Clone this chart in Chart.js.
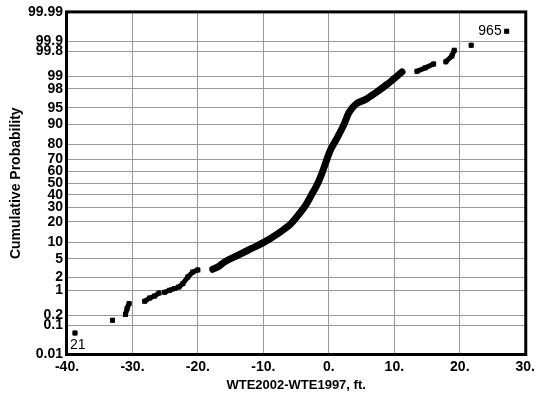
<!DOCTYPE html>
<html>
<head>
<meta charset="utf-8">
<script src="https://cdn.jsdelivr.net/npm/chart.js@4.4.0/dist/chart.umd.min.js"></script>
<style>
  html, body { margin: 0; padding: 0; background: #fff; }
</style>
</head>
<body>
<canvas id="probChart" width="540" height="399"></canvas>
<script>
// Values (null breaks the curve where the original has gaps)
const tailDiff = [-38.78, null, -33.05, null, -31.07, -30.82, -30.52, null,
    -28.13, -27.37, -26.61, -25.95, null, -25.09, -24.33, -23.56, -22.91, -22.30, -21.54, -20.78, -20.02, null,
    13.46, 14.74, 16.0, null, 17.87, 18.79, 19.15, null, 21.74, null, 27.16];
const tailProb = [0.055, null, 0.143, null, 0.213, 0.319, 0.44, null,
    0.51, 0.62, 0.70, 0.84, null, 0.88, 0.99, 1.09, 1.19, 1.44, 2.05, 2.66, 2.95, null,
    99.26, 99.40, 99.53, null, 99.59, 99.72, 99.81, null, 99.867, null, 99.953];

const curveDiff = [-17.74, -16.98, -15.96, -13.93, -11.89, -9.87, -7.84, -5.81, -4.55, -3.53, -2.72,
    -1.80, -1.20, -0.59, 0.18, 1.29, 2.31, 3.07, 4.09, 5.61, 7.13, 8.90, 11.18];
const curveProb = [3.05, 3.39, 4.29, 5.8, 7.68, 9.96, 13.5, 18.8, 25.1, 31.7, 39.3,
    48.7, 56.5, 65.6, 75.9, 84.0, 90.0, 93.8, 95.7, 96.6, 97.55, 98.43, 99.23];

const probTicks = [0.01, 0.1, 0.2, 1, 2, 5, 10, 20, 30, 40, 50, 60, 70, 80, 90, 95, 98, 99, 99.8, 99.9, 99.99];
const diffTicks = [-40, -30, -20, -10, 0, 10, 20, 30];
const endLabels = ['21', '965'];

// inverse normal CDF (Acklam)
function probit(p) {
    const a = [-3.969683028665376e+01, 2.209460984245205e+02, -2.759285104469687e+02, 1.383577518672690e+02, -3.066479806614716e+01, 2.506628277459239e+00];
    const b = [-5.447609879822406e+01, 1.615858368580409e+02, -1.556989798598866e+02, 6.680131188771972e+01, -1.328068155288572e+01];
    const c = [-7.784894002430293e-03, -3.223964580411365e-01, -2.400758277161838e+00, -2.549732539343734e+00, 4.374664141464968e+00, 2.938163982698783e+00];
    const d = [7.784695709041462e-03, 3.224671290700398e-01, 2.445134137142996e+00, 3.754408661907416e+00];
    const pl = 0.02425;
    let q, r;
    if (p < pl) {
        q = Math.sqrt(-2 * Math.log(p));
        return (((((c[0]*q+c[1])*q+c[2])*q+c[3])*q+c[4])*q+c[5]) / ((((d[0]*q+d[1])*q+d[2])*q+d[3])*q+1);
    }
    if (p > 1 - pl) {
        q = Math.sqrt(-2 * Math.log(1 - p));
        return -(((((c[0]*q+c[1])*q+c[2])*q+c[3])*q+c[4])*q+c[5]) / ((((d[0]*q+d[1])*q+d[2])*q+d[3])*q+1);
    }
    q = p - 0.5;
    r = q * q;
    return (((((a[0]*r+a[1])*r+a[2])*r+a[3])*r+a[4])*r+a[5])*q / (((((b[0]*r+b[1])*r+b[2])*r+b[3])*r+b[4])*r+1);
}

function normCdf(z) {
    const t = 1 / (1 + 0.3275911 * Math.abs(z) / Math.SQRT2);
    const y = 1 - (((((1.061405429*t - 1.453152027)*t) + 1.421413741)*t - 0.284496736)*t + 0.254829592) * t * Math.exp(-z*z/2);
    return z >= 0 ? (1 + y) / 2 : (1 - y) / 2;
}

// Probability (normal) axis
class ProbitScale extends Chart.Scale {
    determineDataLimits() {
        this.min = this.options.min;
        this.max = this.options.max;
    }
    buildTicks() {
        return probTicks.map(v => ({ value: v }));
    }
    configure() {
        super.configure();
        this._zStart = probit(this.min / 100);
        this._zEnd = probit(this.max / 100);
    }
    getPixelForValue(value) {
        if (value === null || value === undefined || isNaN(value)) return NaN;
        const z = probit(value / 100);
        return this.getPixelForDecimal((z - this._zStart) / (this._zEnd - this._zStart));
    }
    getValueForPixel(pixel) {
        const z = this._zStart + this.getDecimalForPixel(pixel) * (this._zEnd - this._zStart);
        return normCdf(z) * 100;
    }
}
ProbitScale.id = 'probit';
ProbitScale.defaults = {};
Chart.register(ProbitScale);

function toPoints(xs, ys) {
    return xs.map((x, i) => x === null ? { x: NaN, y: NaN } : { x: x, y: ys[i] });
}

// black frame around the plot + end labels
const framePlugin = {
    id: 'frame',
    afterDatasetsDraw(chart) {
        const ctx = chart.ctx;
        const a = chart.chartArea;
        ctx.save();
        ctx.strokeStyle = '#000';
        ctx.lineWidth = 3;
        ctx.strokeRect(a.left - 0.5, a.top - 0.5, a.right - a.left + 1, a.bottom - a.top + 1);

        const pts = chart.getDatasetMeta(0).data;
        const first = pts[0];
        const last = pts[pts.length - 1];
        ctx.fillStyle = '#000';
        ctx.font = '14px "Liberation Sans", Arial, sans-serif';
        ctx.textAlign = 'left';
        ctx.textBaseline = 'top';
        ctx.fillText(endLabels[0], first.x - 5, first.y + 5);
        ctx.textAlign = 'right';
        ctx.textBaseline = 'middle';
        ctx.fillText(endLabels[1], last.x - 5, last.y);
        ctx.restore();
    }
};

Chart.defaults.font.family = '"Liberation Sans", Arial, sans-serif';
Chart.defaults.font.size = 13;
Chart.defaults.font.weight = 'bold';
Chart.defaults.color = '#000';

const ctx = document.getElementById('probChart').getContext('2d');
const probChart = new Chart(ctx, {
    type: 'scatter',
    data: {
        datasets: [{
            data: toPoints(tailDiff, tailProb),
            showLine: true,
            borderColor: '#000',
            backgroundColor: '#000',
            borderWidth: 5,
            borderCapStyle: 'round',
            borderJoinStyle: 'round',
            pointStyle: 'rect',
            pointRadius: 3.5,
            pointBorderWidth: 0,
            spanGaps: false
        }, {
            data: toPoints(curveDiff, curveProb),
            showLine: true,
            borderColor: '#000',
            backgroundColor: '#000',
            borderWidth: 7,
            borderCapStyle: 'round',
            borderJoinStyle: 'round',
            cubicInterpolationMode: 'monotone',
            pointRadius: 0
        }]
    },
    options: {
        responsive: false,
        animation: false,
        events: [],
        layout: { padding: { top: 11, right: 13, left: 0, bottom: 0 } },
        plugins: {
            legend: { display: false },
            tooltip: { enabled: false }
        },
        scales: {
            x: {
                type: 'linear',
                min: -40,
                max: 30,
                afterBuildTicks: scale => { scale.ticks = diffTicks.map(v => ({ value: v })); },
                afterFit: scale => { scale.height = 45; },
                grid: { color: '#9a9a9a', drawTicks: false },
                border: { display: false },
                ticks: {
                    padding: 5,
                    maxRotation: 0,
                    font: { size: 14 },
                    callback: v => v + '.'
                },
                title: {
                    display: true,
                    text: 'WTE2002-WTE1997, ft.',
                    padding: { top: 0, bottom: 6 }
                }
            },
            y: {
                type: 'probit',
                position: 'left',
                min: 0.01,
                max: 99.99,
                afterFit: scale => { scale.width = 67; },
                grid: { color: '#9a9a9a', drawTicks: false },
                border: { display: false },
                ticks: {
                    padding: 4,
                    autoSkip: false,
                    font: { size: 14 },
                    callback: v => String(v)
                },
                title: {
                    display: true,
                    text: 'Cumulative Probability',
                    font: { size: 14 },
                    padding: { top: 8, bottom: 0 }
                }
            }
        }
    },
    plugins: [framePlugin]
});
</script>
</body>
</html>
